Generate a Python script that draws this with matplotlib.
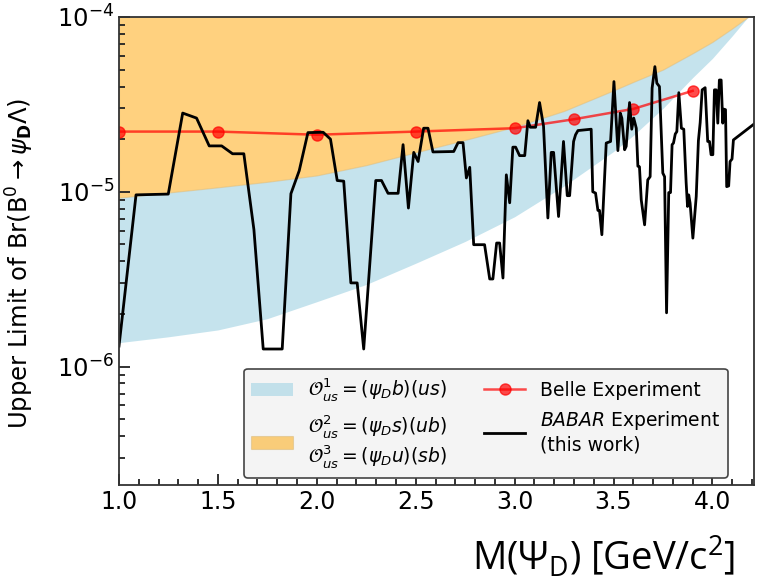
import matplotlib
matplotlib.use('Agg')
import matplotlib.pyplot as plt
from matplotlib.ticker import MultipleLocator, LogLocator, NullFormatter

# --- data (upper limits in units of 1e-6) ---
band_mass = [1.0, 1.25, 1.5, 1.75, 2.0, 2.25, 2.5, 2.75, 3.0, 3.25, 3.5, 3.6, 3.75, 3.9, 4.0, 4.1, 4.18]
o1_low = [1.37, 1.48, 1.62, 1.88, 2.35, 2.95, 3.9, 5.2, 7.2, 10.8, 17.0, 21.0, 30, 45, 58, 78, 100]
o1_high = [9.25, 9.9, 10.6, 11.4, 12.4, 14.2, 16.8, 19.8, 23.5, 29, 38, 42.5, 50, 62, 72, 86, 100]

belle_mass = [1.0, 1.5, 2.0, 2.5, 3.0, 3.3, 3.6, 3.9]
belle_ul = [22.1, 22.1, 21.2, 22.1, 23.1, 26.0, 29.8, 37.8]

babar_mass = [1.000, 1.086, 1.249, 1.322, 1.392, 1.456, 1.519, 1.574, 1.631, 1.682,
              1.729, 1.825, 1.869, 1.911, 1.955, 2.032, 2.069, 2.103, 2.136, 2.172,
              2.204, 2.237, 2.298, 2.327, 2.360, 2.411, 2.436, 2.463, 2.490, 2.512,
              2.540, 2.562, 2.587, 2.692, 2.714, 2.739, 2.756, 2.773, 2.793, 2.848,
              2.874, 2.890, 2.909, 2.924, 2.941, 2.958, 2.975, 2.991, 3.005, 3.025,
              3.051, 3.067, 3.079, 3.106, 3.126, 3.146, 3.168, 3.185, 3.197, 3.222,
              3.247, 3.266, 3.278, 3.298, 3.308, 3.320, 3.387, 3.395, 3.409, 3.421,
              3.429, 3.441, 3.463, 3.485, 3.502, 3.522, 3.534, 3.542, 3.556, 3.564,
              3.581, 3.592, 3.602, 3.615, 3.623, 3.631, 3.640, 3.657, 3.673, 3.685,
              3.695, 3.709, 3.719, 3.732, 3.749, 3.758, 3.768, 3.779, 3.788, 3.796,
              3.803, 3.812, 3.820, 3.830, 3.843, 3.855, 3.867, 3.874, 3.880, 3.887,
              3.901, 3.918, 3.929, 3.938, 3.948, 3.963, 3.976, 3.985, 3.993, 4.002,
              4.010, 4.019, 4.027, 4.035, 4.044, 4.052, 4.057, 4.066, 4.072, 4.082,
              4.089, 4.099, 4.106, 4.21]
babar_ul = [1.31, 9.6, 9.7, 28.2, 26.4, 18.3, 18.3, 16.5, 16.5, 6.07,
            1.26, 1.26, 9.75, 13.2, 21.8, 21.9, 20.0, 11.6, 11.5, 3.01,
            3.01, 1.26, 11.6, 11.6, 9.8, 9.8, 18.6, 8.07, 16.8, 14.9,
            23.1, 23.1, 16.9, 17.0, 19.1, 19.1, 12.0, 13.8, 4.98, 4.98,
            3.17, 3.17, 5.09, 5.09, 3.21, 12.5, 8.65, 18.0, 18.0, 16.1,
            16.1, 25.5, 23.4, 23.4, 32.4, 23.8, 7.08, 16.8, 16.8, 7.22,
            19.4, 9.5, 9.5, 19.4, 21.2, 22.4, 22.8, 10.0, 9.83, 7.82,
            7.82, 5.68, 19.0, 19.4, 42.7, 17.2, 28.2, 26.4, 17.4, 18.2,
            32.4, 22.8, 26.4, 23.1, 14.0, 13.9, 9.0, 6.47, 11.7, 12.2,
            39.2, 52.0, 41.8, 40.0, 12.8, 12.2, 2.03, 9.9, 9.9, 18.6,
            19.0, 21.4, 22.1, 36.9, 23.1, 22.8, 11.3, 8.24, 9.6, 8.61,
            5.43, 9.4, 19.6, 24.9, 38.3, 39.4, 19.4, 19.4, 16.3, 16.3,
            38.3, 38.3, 24.7, 43.6, 43.6, 24.7, 29.7, 29.5, 10.7, 10.8,
            14.9, 15.4, 19.8, 24.4]

unit = 1e-6
top = 1e-4

fig = plt.figure(figsize=(7.59, 5.84), dpi=100)
ax = fig.add_axes([0.1568, 0.1695, 0.8366, 0.8014])

ax.fill_between(band_mass, [v * unit for v in o1_low], [v * unit for v in o1_high],
                color='lightblue', alpha=0.7, lw=0,
                label=r'$\mathcal{O}^1_{us} = (\psi_D b)(us)$')
ax.fill_between(band_mass, [v * unit for v in o1_high], [top * 10] * len(band_mass),
                color='orange', alpha=0.5, lw=0.8, edgecolor='#d8b878',
                label='$\\mathcal{O}^2_{us} = (\\psi_D s)(ub)$\n$\\mathcal{O}^3_{us} = (\\psi_D u)(sb)$')
ax.plot(belle_mass, [v * unit for v in belle_ul], 'o-', color='red', alpha=0.7,
        ms=8, lw=1.8, label='Belle Experiment')
ax.plot(babar_mass, [v * unit for v in babar_ul], color='black', lw=2,
        label='$BABAR$ Experiment\n(this work)')

ax.set_yscale('log')
ax.set_xlim(1.0, 4.21)
ax.set_ylim(2.1e-7, top)

ax.xaxis.set_major_locator(MultipleLocator(0.5))
ax.xaxis.set_minor_locator(MultipleLocator(0.1))
ax.yaxis.set_minor_locator(LogLocator(base=10, subs=range(2, 10)))
ax.yaxis.set_minor_formatter(NullFormatter())
ax.tick_params(which='both', direction='in', labelsize=17, width=1.3, color='#222')
ax.tick_params(axis='y', labelsize=17.5)
ax.tick_params(which='major', length=8)
ax.tick_params(which='minor', length=4.5)
for s in ax.spines.values():
    s.set_linewidth(1.3)
    s.set_color('#333')

ax.set_ylabel(r'Upper Limit of Br(B$^0$$\rightarrow$$\psi_\mathbf{D}\Lambda$)', fontsize=17.5)
ax.yaxis.set_label_coords(-0.13, 0.474)

plt.rcParams['mathtext.rm'] = 'Open Sans'
plt.rcParams['mathtext.it'] = 'Open Sans:italic'
plt.rcParams['mathtext.bf'] = 'Open Sans:bold'
xl = ax.set_xlabel(r'M($\Psi_{\rm D}$) [GeV/c$^{\rm 2}$]', fontsize=27.5,
                   family='Open Sans', math_fontfamily='custom', loc='right')
ax.xaxis.set_label_coords(0.97, -0.105)

leg = ax.legend(ncol=2, loc='lower right', bbox_to_anchor=(0.959, 0.015),
                borderaxespad=0, fontsize=13.5, handlelength=2.2,
                facecolor='#f4f4f4', edgecolor='#444', framealpha=1)
leg.get_frame().set_linewidth(1.2)

fig.savefig('out.png', dpi=100)
